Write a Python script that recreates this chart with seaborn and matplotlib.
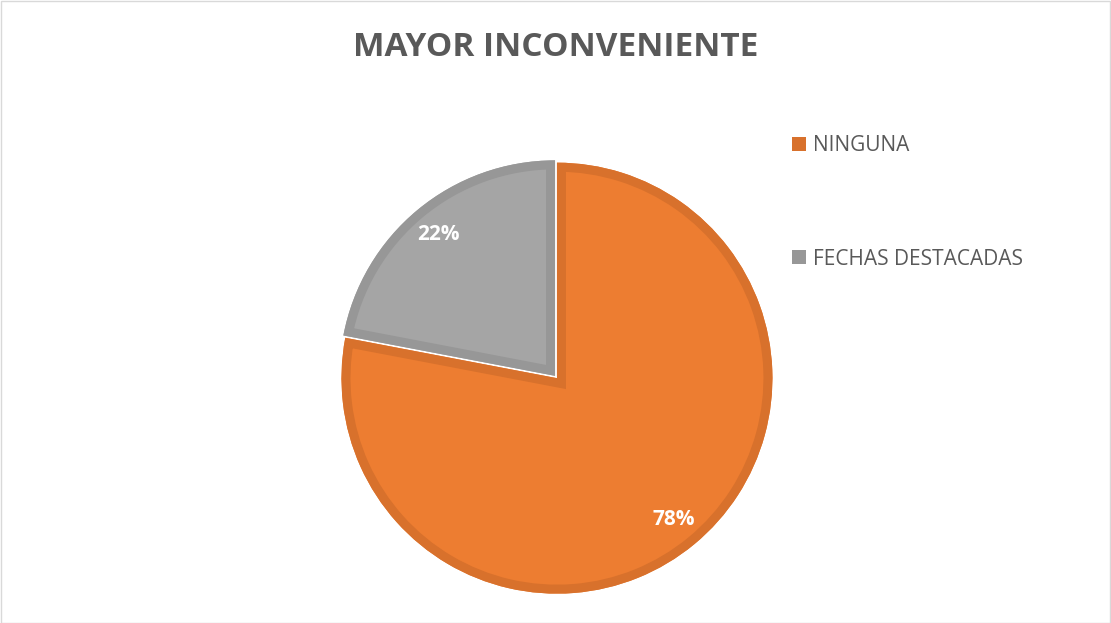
import matplotlib
matplotlib.use("Agg")
import matplotlib.pyplot as plt
import seaborn as sns
from matplotlib.patches import Patch, Rectangle, Wedge

categories = ["NINGUNA", "FECHAS DESTACADAS"]
values = [78, 22]
title = "MAYOR INCONVENIENTE"

face_colors = ["#ED7D31", "#A5A5A5"]
edge_colors = ["#D8712C", "#979797"]

sns.set_theme(style="white")
plt.rcParams['font.family'] = ['Open Sans', 'DejaVu Sans']

W, H = 1111, 623
fig = plt.figure(figsize=(W / 100, H / 100), dpi=100)
fig.patch.set_facecolor("white")

cx, cy, r = 556, 377, 217
ax = fig.add_axes([(cx - r) / W, (H - cy - r) / H, 2 * r / W, 2 * r / H])

wedges, texts, autotexts = ax.pie(
    values,
    colors=face_colors,
    startangle=90,
    counterclock=False,
    explode=[0.007, 0.007],
    autopct=lambda p: f"{p:.0f}%",
    pctdistance=0.85,
    radius=1.0,
    wedgeprops=dict(linewidth=0),
    textprops=dict(color="white", fontsize=15, fontweight="bold"),
)
for w, ec in zip(wedges, edge_colors):
    b = Wedge(w.center, w.r, w.theta1, w.theta2, facecolor="none",
              edgecolor=ec, linewidth=13, zorder=w.get_zorder() + 0.1)
    ax.add_patch(b)
    b.set_clip_path(w)
for t in autotexts:
    t.set_zorder(5)
ax.set_xlim(-1.007, 1.007)
ax.set_ylim(-1.007, 1.007)
ax.set_aspect("equal")
ax.axis("off")

fig.text(556 / W, 1 - 47 / H, title, ha="center", va="center",
         fontsize=24, fontweight="bold", color="#595959")

handles = [Patch(facecolor=c, edgecolor="none") for c in edge_colors]
leg = fig.legend(handles, categories, loc="upper left",
                 bbox_to_anchor=(784 / W, 1 - 127 / H),
                 frameon=False, fontsize=15, handlelength=0.65, handleheight=0.65,
                 handletextpad=0.35, labelspacing=4.43, borderaxespad=0)
for t in leg.get_texts():
    t.set_color("#595959")

fig.patches.append(Rectangle((0.5 / W, 0.5 / H), 1 - 1.5 / W, 1 - 1.5 / H,
                             transform=fig.transFigure, fill=False,
                             edgecolor="#D9D9D9", linewidth=1))

fig.savefig("out.png", dpi=100)
